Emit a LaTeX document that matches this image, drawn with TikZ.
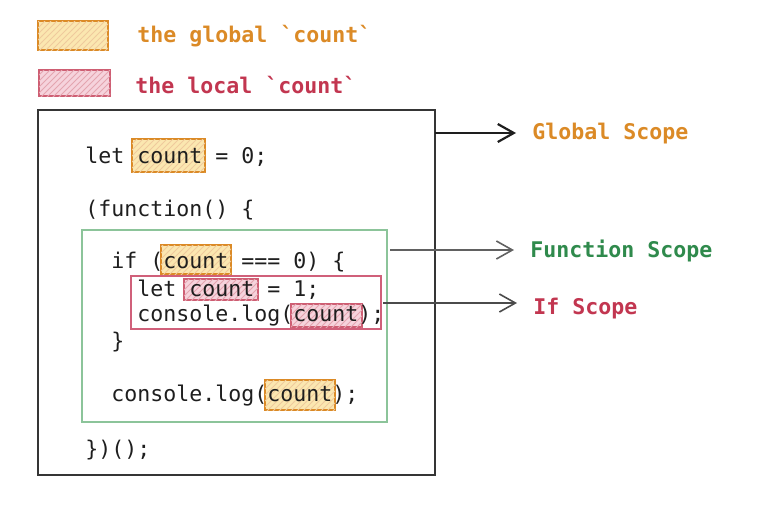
\documentclass[tikz,border=0pt]{standalone}
\usepackage{fontspec}
\setmonofont{DejaVu Sans Mono}
\usetikzlibrary{arrows.meta,patterns}

\definecolor{globalorange}{HTML}{DB8A26}
\definecolor{globalfill}{HTML}{FBE7B0}
\definecolor{localred}{HTML}{C23650}
\definecolor{localfill}{HTML}{F6D3DC}
\definecolor{funcgreen}{HTML}{2F8A4C}
\definecolor{funcline}{HTML}{8CC49A}
\definecolor{ifline}{HTML}{D0607A}
\definecolor{codeink}{HTML}{1E1E1E}

\newcommand{\bq}{\textasciigrave}

\tikzset{
  code/.style={anchor=west,inner sep=0pt,text=codeink,
    font=\ttfamily\fontsize{10.8}{13}\selectfont},
  tag/.style={code,font=\ttfamily\bfseries\fontsize{10.8}{13}\selectfont},
  hlglobal/.style={draw=globalorange,line width=0.7pt,fill=globalfill,
    postaction={pattern=north east lines,pattern color=globalorange!45}},
  hllocal/.style={draw=localred!80,line width=0.7pt,fill=localfill,
    postaction={pattern=north east lines,pattern color=localred!45}},
  scopearrow/.style={-{Straight Barb[length=8pt,width=9pt]},shorten >=8pt},
}

\begin{document}
\begin{tikzpicture}[x=0.5pt,y=-0.5pt]
  \useasboundingbox (0,0) rectangle (780,504);

  % Legend
  \draw[hlglobal] (38,21) rectangle (108,50);
  \draw[hllocal] (39,70) rectangle (110,96);
  \node[tag,text=globalorange] (globallbl) at (137,36) {the global \bq count\bq};
  \node[tag,text=localred] (locallbl) at (135,85) {the local \bq count\bq};

  % Scope boxes
  \draw[codeink!90,line width=0.8pt] (38,110) rectangle (435,475);
  \draw[funcline,line width=0.8pt] (82,230) rectangle (387,422);
  \draw[ifline,line width=0.8pt] (131,276) rectangle (381,329);

  % Highlighted count
  \draw[hlglobal] (132,139) rectangle (205,172);
  \draw[hlglobal] (161,245) rectangle (231,274);
  \draw[hllocal] (184,279) rectangle (258,300);
  \draw[hllocal] (291,304) rectangle (362,327);
  \draw[hlglobal] (265,380) rectangle (335,410);

  % Code lines
  \node[code] (line1) at (85,157) {let count = 0;};
  \node[code] (line2) at (85,210) {(function() \{};
  \node[code] (line3) at (111,262) {if (count === 0) \{};
  \node[code] (line4) at (137,290) {let count = 1;};
  \node[code] (line5) at (137,316) {console.log(count);};
  \node[code] (line6) at (111,342) {\}};
  \node[code] (line7) at (111,396) {console.log(count);};
  \node[code] (line8) at (85,450) {\})();};

  % Scope labels
  \node[tag,text=globalorange] (globalscope) at (532,134) {Global Scope};
  \node[tag,text=funcgreen] (funcscope) at (530,251) {Function Scope};
  \node[tag,text=localred] (ifscope) at (533,309) {If Scope};

  % Arrows
  \coordinate (gsrc) at (435,133);
  \coordinate (fsrc) at (390,250);
  \coordinate (isrc) at (383,303);
  \draw[scopearrow,codeink,line width=1.1pt] (gsrc) -- (gsrc -| globalscope.west);
  \draw[scopearrow,codeink!70,line width=0.8pt] (fsrc) -- (fsrc -| funcscope.west);
  \draw[scopearrow,codeink!80,line width=0.8pt] (isrc) -- (isrc -| ifscope.west);
\end{tikzpicture}
\end{document}
